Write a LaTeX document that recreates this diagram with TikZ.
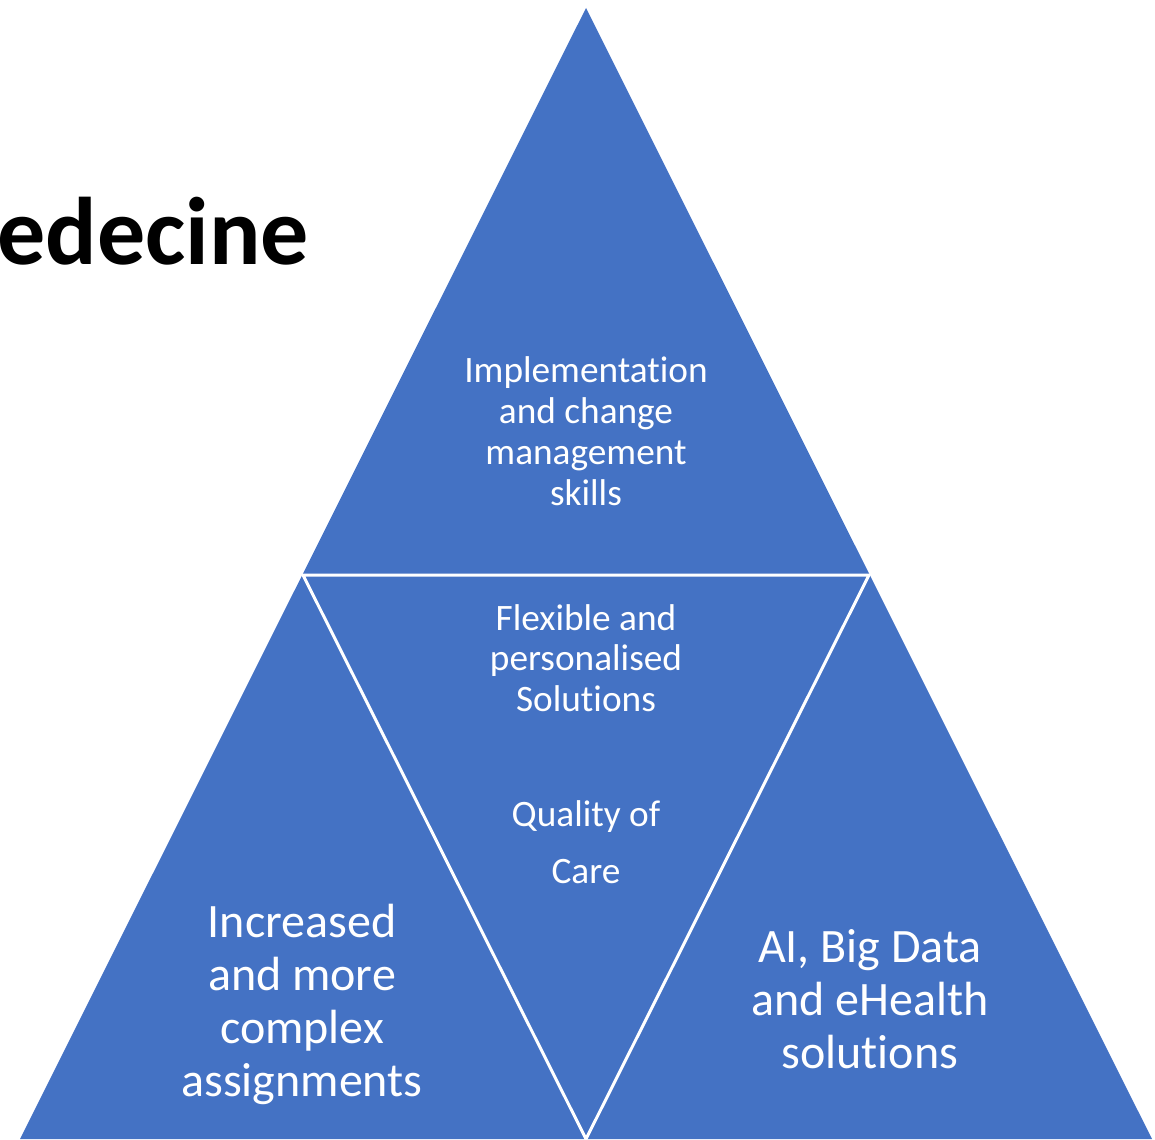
\documentclass[tikz,border=0pt]{standalone}
\usepackage{fontspec}
\setmainfont{Carlito}[Ligatures=CommonOff]
\definecolor{pyblue}{HTML}{4472C4}
\begin{document}
\begin{tikzpicture}[x=1pt,y=-1pt,
  lbl/.style={text=white,align=center,inner sep=0pt,anchor=base},
  divider/.style={draw=white,line width=3pt,line join=miter}]
\useasboundingbox (0,0) rectangle (1155,1139);
% outer triangle and its corners
\coordinate (apex) at (586,8);
\coordinate (bl) at (20,1139);
\coordinate (br) at (1152,1139);
\coordinate (ml) at (303,575);
\coordinate (mr) at (869,575);
\coordinate (mb) at (586,1139);
\fill[pyblue] (apex) -- (bl) -- (br) -- cycle;
% white dividers between the four triangles
\draw[divider] (ml) -- (mr) -- (mb) -- cycle;
% title fragment
\node[anchor=base west,inner sep=0pt,font=\fontsize{96}{110}\selectfont\bfseries] (title) at (-3,265) {edecine};
% labels (anchored at the baseline of their last line)
\node[lbl,font=\fontsize{37.3}{41}\selectfont] (top) at (586,505)
  {Implementation\\and change\\management\\skills};
\node[lbl,font=\fontsize{37.3}{40.5}\selectfont] (mid) at (586,711)
  {Flexible and\\personalised\\Solutions};
\node[lbl,font=\fontsize{37.3}{57}\selectfont] (care) at (586,883)
  {Quality of\\Care};
\node[lbl,font=\fontsize{48}{52.7}\selectfont] (left) at (302,1096)
  {Increased\\and more\\complex\\assignments};
\node[lbl,font=\fontsize{48}{53}\selectfont] (right) at (870,1068)
  {AI, Big Data\\and eHealth\\solutions};
\end{tikzpicture}
\end{document}
